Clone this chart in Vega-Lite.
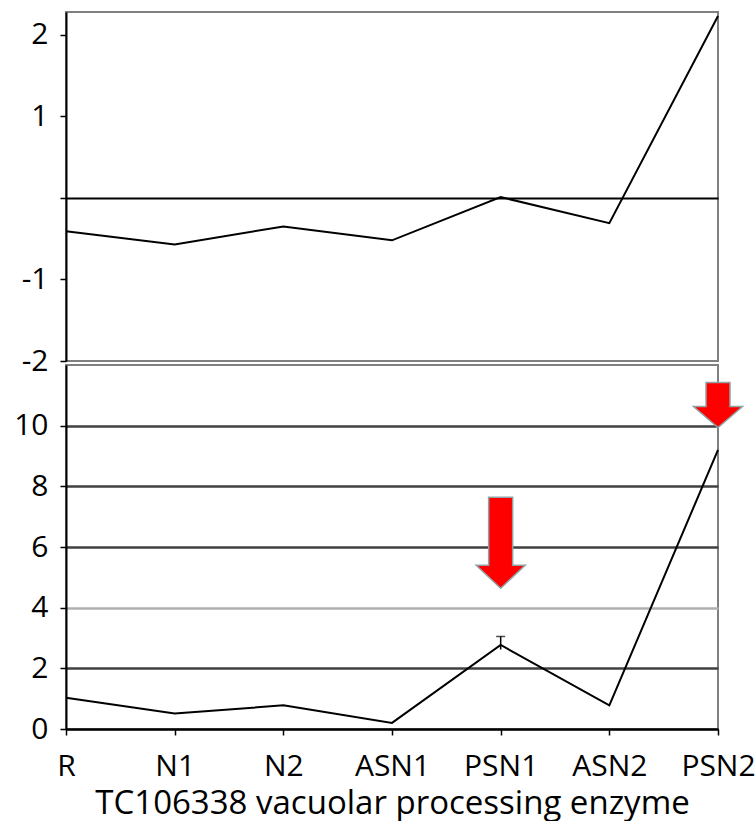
{
  "$schema": "https://vega.github.io/schema/vega-lite/v6.json",
  "padding": {"left": 12, "top": 11, "right": 0, "bottom": 0},
  "background": "white",
  "spacing": 4,
  "bounds": "flush",
  "config": {
    "font": "Open Sans",
    "view": {"stroke": "#808080", "strokeWidth": 2},
    "axis": {
      "domainColor": "black",
      "domainWidth": 2,
      "tickColor": "black",
      "tickWidth": 1.5,
      "tickSize": 6,
      "labelFont": "Open Sans",
      "labelFontSize": 30,
      "labelFontWeight": 500,
      "labelColor": "black",
      "labelPadding": 12,
      "titleFont": "Open Sans",
      "titleFontSize": 33,
      "titleFontWeight": 500,
      "titleColor": "black"
    }
  },
  "datasets": {
    "expr": [
      {"sample": "R", "ratio": -0.41, "fold": 1.03},
      {"sample": "N1", "ratio": -0.57, "fold": 0.51},
      {"sample": "N2", "ratio": -0.35, "fold": 0.78},
      {"sample": "ASN1", "ratio": -0.52, "fold": 0.2},
      {"sample": "PSN1", "ratio": 0.01, "fold": 2.77},
      {"sample": "ASN2", "ratio": -0.31, "fold": 0.78},
      {"sample": "PSN2", "ratio": 2.23, "fold": 9.2}
    ],
    "err": [
      {"sample": "PSN1", "lo": 2.62, "hi": 3.05}
    ],
    "arrows": [
      {"sample": "PSN1", "y": 6.14, "kind": "long"},
      {"sample": "PSN2", "y": 10.68, "kind": "short"}
    ]
  },
  "vconcat": [
    {
      "width": 652,
      "height": 349,
      "data": {"name": "expr"},
      "mark": {"type": "line", "color": "black", "strokeWidth": 2},
      "encoding": {
        "x": {
          "field": "sample", "type": "ordinal", "sort": null,
          "scale": {"type": "point", "padding": 0},
          "axis": null
        },
        "y": {
          "field": "ratio", "type": "quantitative",
          "scale": {"domain": [-2, 2.28], "nice": false, "zero": false},
          "axis": {
            "values": [-2, -1, 0, 1, 2],
            "labelExpr": "datum.value == 0 ? '' : toString(datum.value)",
            "title": null,
            "grid": true,
            "gridColor": "black",
            "gridWidth": 2,
            "gridOpacity": {"condition": {"test": "datum.value == 0", "value": 1}, "value": 0}
          }
        }
      }
    },
    {
      "width": 652,
      "height": 364,
      "layer": [
        {
          "data": {"name": "expr"},
          "mark": {"type": "line", "color": "black", "strokeWidth": 2},
          "encoding": {
            "x": {
              "field": "sample", "type": "ordinal", "sort": null,
              "scale": {"type": "point", "padding": 0},
              "axis": {
                "labelAngle": 0,
                "labelPadding": 16,
                "title": "TC106338 vacuolar processing enzyme",
                "titlePadding": 6
              }
            },
            "y": {
              "field": "fold", "type": "quantitative",
              "scale": {"domain": [0, 12], "nice": false},
              "axis": {
                "values": [0, 2, 4, 6, 8, 10],
                "title": null,
                "grid": true,
                "gridWidth": 2.5,
                "gridColor": {"condition": {"test": "datum.value == 4", "value": "#b0b0b0"}, "value": "#404040"}
              }
            }
          }
        },
        {
          "data": {"name": "err"},
          "mark": {"type": "rule", "color": "black", "strokeWidth": 1.5},
          "encoding": {
            "x": {"field": "sample", "type": "ordinal", "sort": null},
            "y": {"field": "lo", "type": "quantitative"},
            "y2": {"field": "hi"}
          }
        },
        {
          "data": {"name": "err"},
          "mark": {"type": "tick", "color": "black", "size": 9, "thickness": 1.5, "orient": "horizontal"},
          "encoding": {
            "x": {"field": "sample", "type": "ordinal", "sort": null},
            "y": {"field": "hi", "type": "quantitative"}
          }
        },
        {
          "data": {"name": "arrows"},
          "transform": [{"filter": "datum.kind == 'long'"}],
          "mark": {
            "type": "point",
            "shape": "M-0.264,-1 L0.264,-1 L0.264,0.495 L0.538,0.495 L0,1 L-0.538,0.495 L-0.264,0.495 Z",
            "filled": true,
            "fill": "#ff0000",
            "stroke": "#8fa3a6",
            "strokeWidth": 1.5,
            "opacity": 1,
            "size": 8281
          },
          "encoding": {
            "x": {"field": "sample", "type": "ordinal", "sort": null},
            "y": {"field": "y", "type": "quantitative"}
          }
        },
        {
          "data": {"name": "arrows"},
          "transform": [{"filter": "datum.kind == 'short'"}],
          "mark": {
            "type": "point",
            "shape": "M-0.533,-1 L0.533,-1 L0.533,0.067 L1.089,0.067 L0,1 L-1.089,0.067 L-0.533,0.067 Z",
            "filled": true,
            "fill": "#ff0000",
            "stroke": "#8fa3a6",
            "strokeWidth": 1.5,
            "opacity": 1,
            "size": 2025
          },
          "encoding": {
            "x": {"field": "sample", "type": "ordinal", "sort": null},
            "y": {"field": "y", "type": "quantitative"}
          }
        }
      ]
    }
  ]
}
